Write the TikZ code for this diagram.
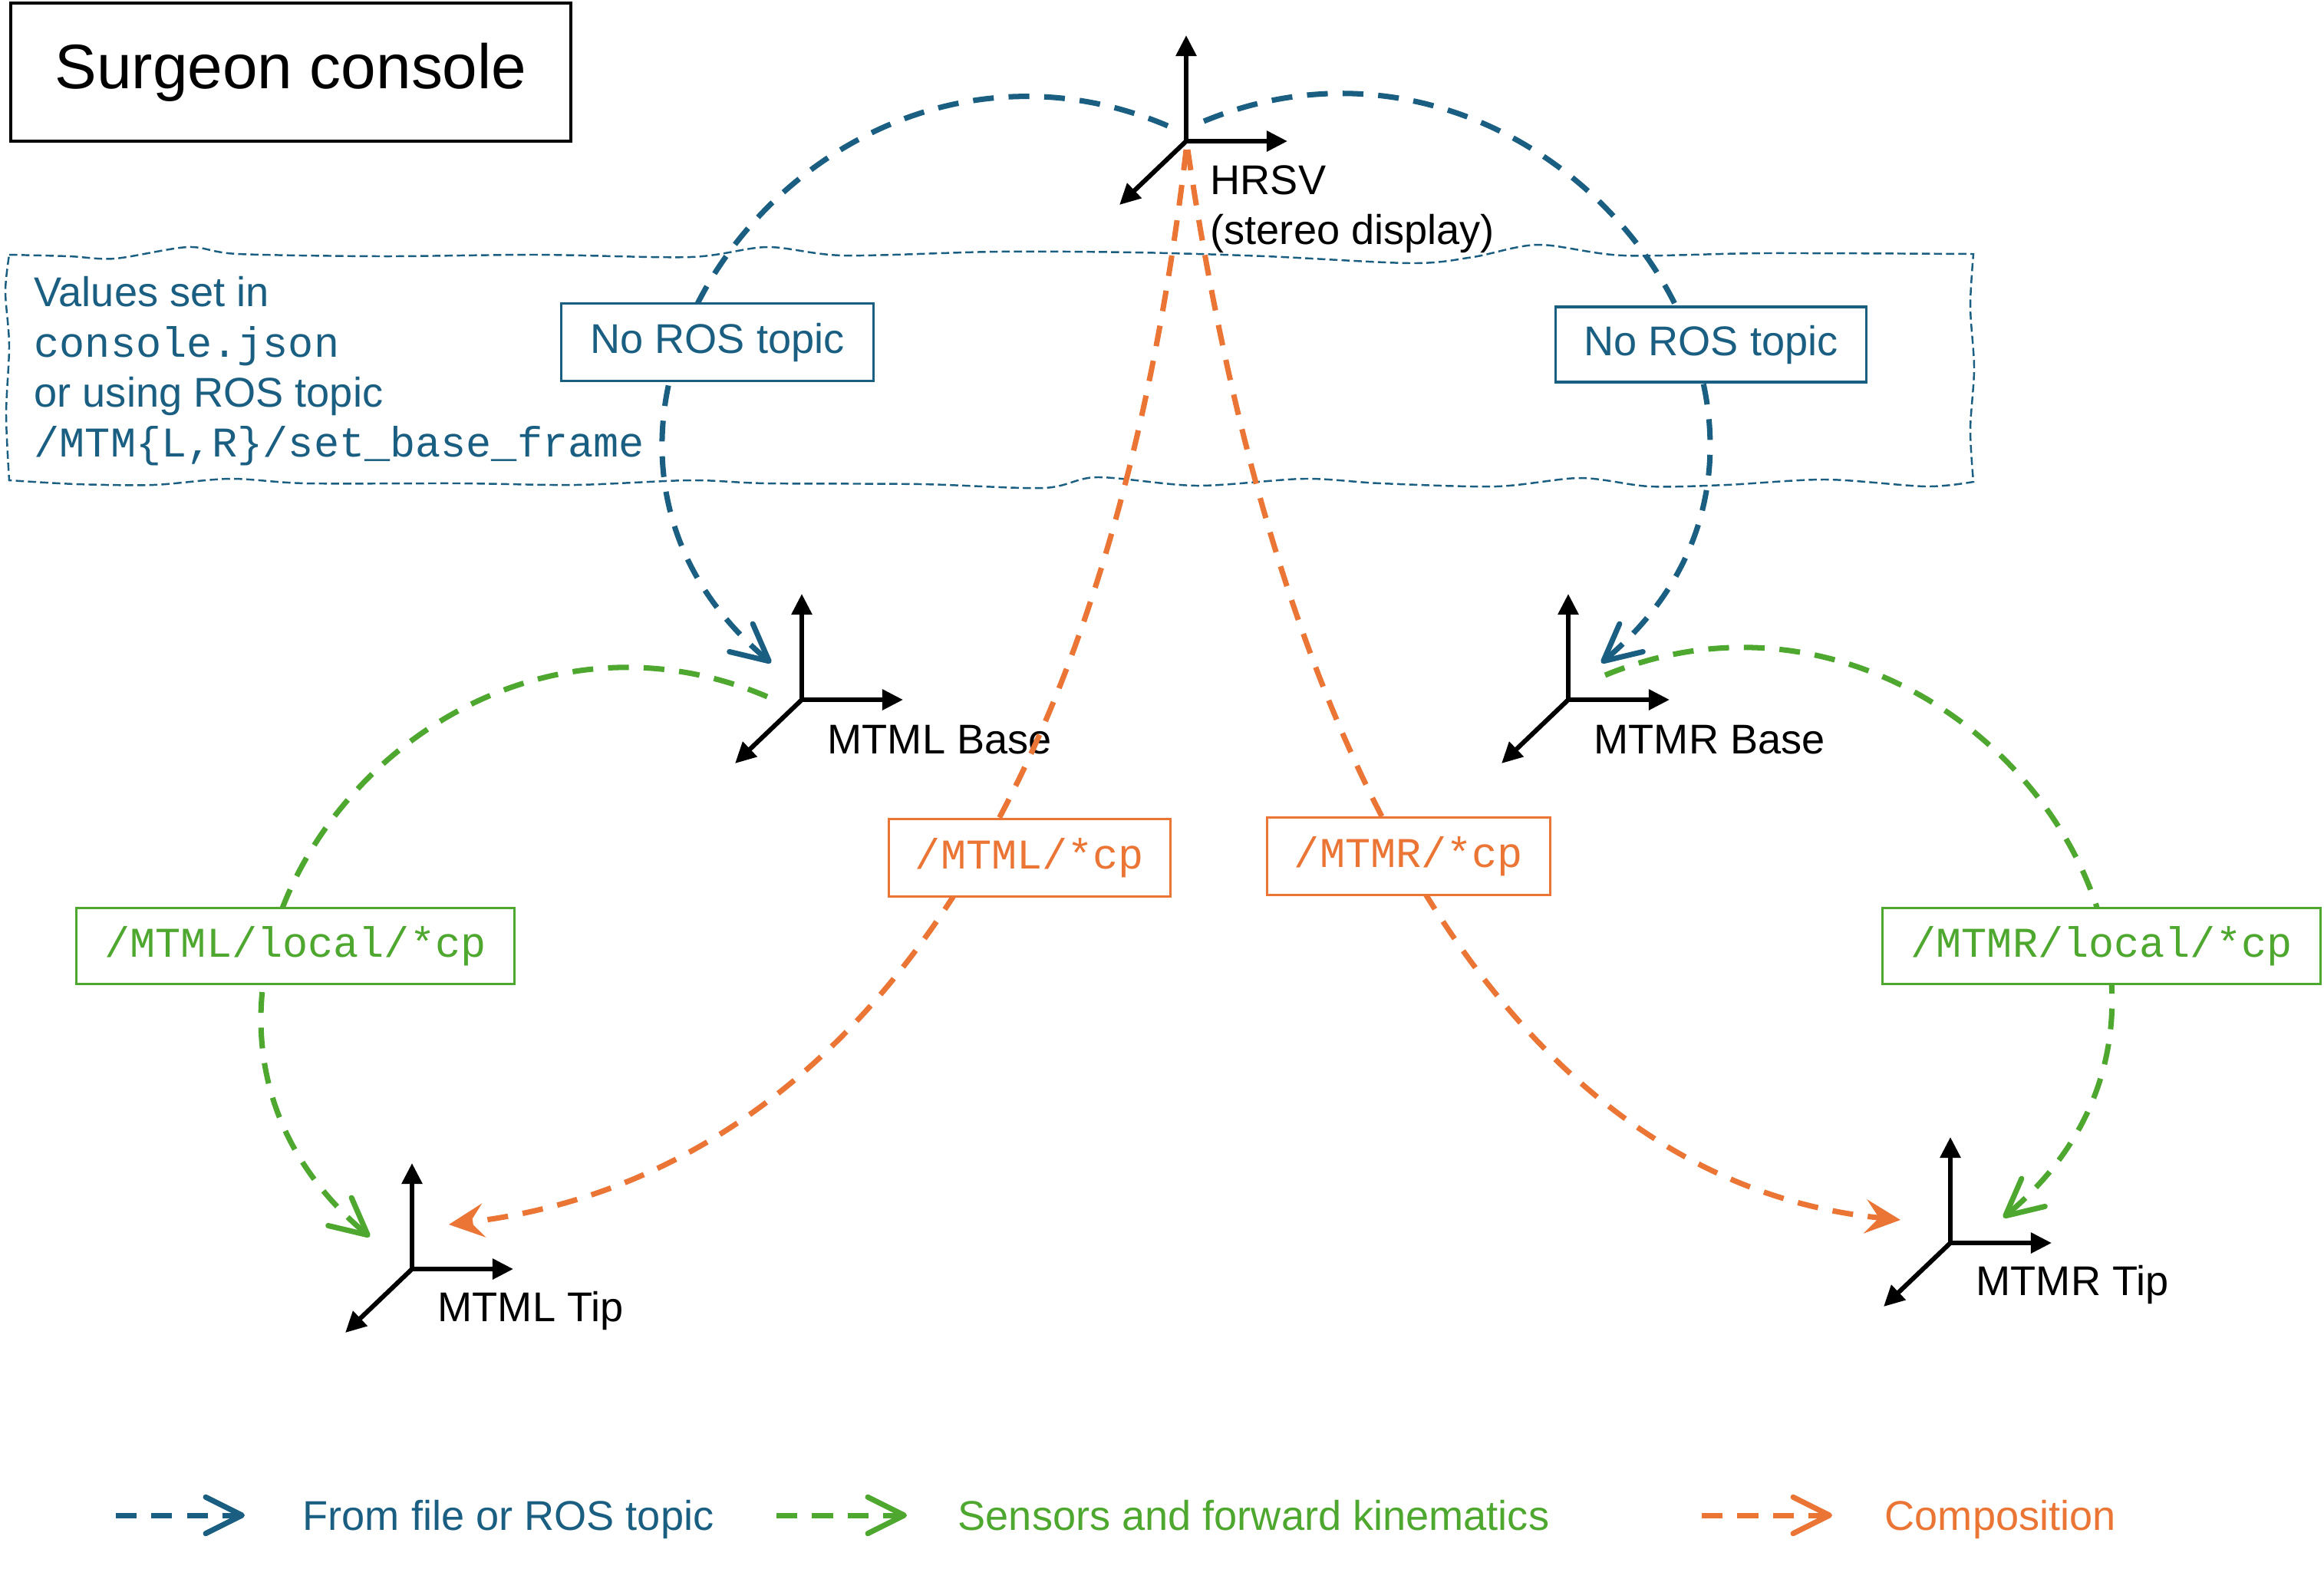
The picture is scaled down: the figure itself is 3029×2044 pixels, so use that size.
\documentclass[tikz,border=0pt]{standalone}
\usepackage{fontspec}
\setmainfont{Liberation Sans}
\setmonofont{Liberation Mono}
\usetikzlibrary{arrows.meta,calc}
\definecolor{cblue}{HTML}{1A5F82}
\definecolor{cgreen}{HTML}{4EA72E}
\definecolor{corange}{HTML}{EB7534}
\newcommand\monosz{\fontsize{15.7pt}{18.5pt}\selectfont\ttfamily}
\begin{document}
\begin{tikzpicture}[x=0.01cm,y=-0.01cm,
  lbl/.style={font=\fontsize{15.4pt}{18.5pt}\selectfont, inner sep=0pt},
  axis/.style={line width=1.7pt, {Triangle[length=7.7pt,width=7.4pt]}-{Triangle[length=7.7pt,width=7.4pt]}},
  diagaxis/.style={line width=1.7pt, -{Triangle[length=7.7pt,width=7.4pt]}},
  conn/.style={line width=2pt, dash pattern=on 7.7pt off 5.5pt},
  barb/.style={-{Straight Barb[length=13.5pt,width=13.5pt,round]}},
  bluec/.style={conn, draw=cblue, barb},
  greenc/.style={conn, draw=cgreen, barb},
  orangec/.style={conn, draw=corange, -{Stealth[length=13pt,width=12.5pt,inset=5pt]}},
  orangeleg/.style={conn, draw=corange, barb},
  tagbox/.style={draw, line width=0.9pt, fill=white, inner sep=0pt},
  sanstag/.style={tagbox, font=\fontsize{15.4pt}{18.5pt}\selectfont},
  monotag/.style={tagbox, font=\monosz},
  frameax/.pic={
    \draw[axis] (0,-138) -- (0,0) -- (132,0);
    \draw[diagaxis] (0,0) -- (-87,83);
  },
  wavy/.style={draw=cblue, line width=0.7pt, dash pattern=on 3pt off 1.5pt}
]
\path[fill=white, use as bounding box] (0,0) rectangle (3029,2044);

% title box
\node[draw, line width=1pt, minimum width=7.30cm, minimum height=1.80cm,
      font=\fontsize{23.3pt}{28pt}\selectfont] (sc) at (379,94) {Surgeon console};

% wavy region
\draw[wavy] plot[smooth] coordinates {(12,332) (90,334) (150,337) (245,322) (310,331) (500,334) (700,332) (900,335) (1000,322) (1100,333) (1300,328) (1480,329) (1650,334) (1840,343) (1920,335) (2005,319) (2116,333) (2300,330) (2572,331)}
  -- plot[smooth] coordinates {(2572,331) (2568,400) (2573,480) (2568,560) (2572,628)}
  -- plot[smooth] coordinates {(2572,628) (2510,634) (2380,625) (2250,632) (2150,634) (2060,623) (1950,634) (1800,630) (1700,624) (1560,633) (1430,622) (1360,636) (1200,631) (1000,630) (900,626) (750,632) (600,630) (400,630) (300,624) (200,632) (100,631) (12,626)}
  -- plot[smooth] coordinates {(12,626) (8,540) (12,450) (7,380) (12,332)};

\node[lbl, anchor=north west, align=left, text=cblue] (vals) at (44,360)
  {Values set in\\{\monosz console.json}\\or using ROS topic\\{\monosz /MTM\{L,R\}/set\_base\_frame}};

% frames
\coordinate (hrsv) at (1546,184);
\coordinate (mtmlb) at (1045,912);
\coordinate (mtmrb) at (2044,912);
\coordinate (mtmlt) at (537,1654);
\coordinate (mtmrt) at (2542,1620);
\pic at (hrsv) {frameax};
\pic at (mtmlb) {frameax};
\pic at (mtmrb) {frameax};
\pic at (mtmlt) {frameax};
\pic at (mtmrt) {frameax};

\node[lbl, anchor=north west, align=left] (hrsvl) at (1577,215) {HRSV\\(stereo display)};
\node[lbl, anchor=base west] (mtmlbl) at (1078,982) {MTML Base};
\node[lbl, anchor=base west] (mtmrbl) at (2077,982) {MTMR Base};
\node[lbl, anchor=base west] (mtmltl) at (570,1722) {MTML Tip};
\node[lbl, anchor=base west] (mtmrtl) at (2575,1688) {MTMR Tip};

% connectors
\draw[bluec] ($(hrsv)+(-24,-20)$) .. controls +(-454,-193) and +(-371,-311) .. ($(mtmlb)+(-40,-48)$);
\draw[bluec] ($(hrsv)+(23,-26)$) .. controls +(454,-187) and +(371,-311) .. ($(mtmrb)+(43,-48)$);
\draw[orangec] ($(hrsv)+(0,11)$) .. controls +(-99,849) and +(524,-62) .. ($(mtmlt)+(48,-58)$);
\draw[orangec] ($(hrsv)+(2,11)$) .. controls +(126,858) and +(-478,-48) .. ($(mtmrt)+(-65,-30)$);
\draw[greenc] ($(mtmlb)+(-45,-4)$) .. controls +(-454,-193) and +(-371,-311) .. ($(mtmlt)+(-55,-42)$);
\draw[greenc] ($(mtmrb)+(48,-32)$) .. controls +(454,-187) and +(371,-311) .. ($(mtmrt)+(69,-33)$);

% labels on connectors
\node[sanstag, draw=cblue, text=cblue, minimum width=4.06cm, minimum height=1.01cm] (nrl) at (935,446) {No ROS topic};
\node[sanstag, draw=cblue, text=cblue, minimum width=4.05cm, minimum height=0.98cm] (nrr) at (2230,449) {No ROS topic};
\node[monotag, draw=corange, text=corange, minimum width=3.67cm, minimum height=1.01cm] (ocl) at (1342,1118) {/MTML/*cp};
\node[monotag, draw=corange, text=corange, minimum width=3.69cm, minimum height=1.01cm] (ocr) at (1836,1116) {/MTMR/*cp};
\node[monotag, draw=cgreen, text=cgreen, minimum width=5.70cm, minimum height=0.99cm] (gcl) at (385,1233) {/MTML/local/*cp};
\node[monotag, draw=cgreen, text=cgreen, minimum width=5.70cm, minimum height=0.99cm] (gcr) at (2739,1233) {/MTMR/local/*cp};

% legend
\coordinate (lb0) at (151,1975); \coordinate (lb1) at (319,1975);
\coordinate (lg0) at (1012,1975); \coordinate (lg1) at (1182,1975);
\coordinate (lo0) at (2218,1975); \coordinate (lo1) at (2388,1975);
\draw[bluec] (lb0) -- (lb1);
\draw[greenc] (lg0) -- (lg1);
\draw[orangeleg] (lo0) -- (lo1);
\node[lbl, anchor=base west, text=cblue] (lbt) at (394,1994) {From file or ROS topic};
\node[lbl, anchor=base west, text=cgreen] (lgt) at (1248,1994) {Sensors and forward kinematics};
\node[lbl, anchor=base west, text=corange] (lot) at (2456,1994) {Composition};
\end{tikzpicture}
\end{document}
